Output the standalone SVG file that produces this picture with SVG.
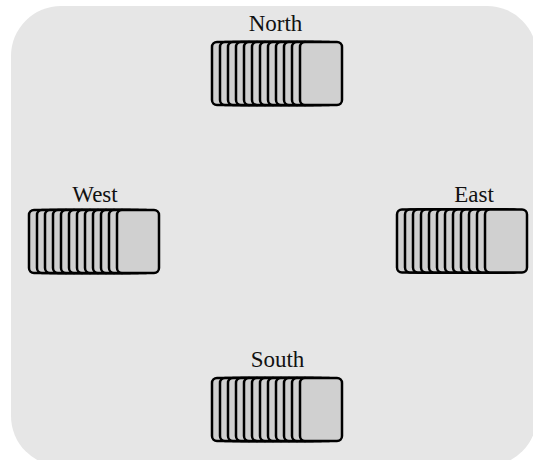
<svg xmlns="http://www.w3.org/2000/svg" xmlns:xlink="http://www.w3.org/1999/xlink" width="533" height="460" viewBox="0 0 533 460">
  <style>
    .bg { fill: #e6e6e6; stroke: none; }
    .card { fill: #d0d0d0; stroke: #000000; stroke-width: 2.5; }
    .label { font-family: "Liberation Serif", "Times New Roman", serif; font-size: 23px; fill: #111111; text-anchor: middle; }
  </style>
  <defs>
    <g id="stack">
      <rect class="card" x="0" y="0" width="42" height="63" rx="5"/>
      <rect class="card" x="8" y="0" width="42" height="63" rx="5"/>
      <rect class="card" x="16" y="0" width="42" height="63" rx="5"/>
      <rect class="card" x="24" y="0" width="42" height="63" rx="5"/>
      <rect class="card" x="32" y="0" width="42" height="63" rx="5"/>
      <rect class="card" x="40" y="0" width="42" height="63" rx="5"/>
      <rect class="card" x="48" y="0" width="42" height="63" rx="5"/>
      <rect class="card" x="56" y="0" width="42" height="63" rx="5"/>
      <rect class="card" x="64" y="0" width="42" height="63" rx="5"/>
      <rect class="card" x="72" y="0" width="42" height="63" rx="5"/>
      <rect class="card" x="80" y="0" width="42" height="63" rx="5"/>
      <rect class="card" x="88" y="0" width="42" height="63" rx="5"/>
    </g>
  </defs>
  <rect class="bg" x="11" y="6" width="526" height="460" rx="50" ry="50"/>
  <g id="connectors"></g>
  <g id="north">
    <text class="label" x="275.5" y="31">North</text>
    <use xlink:href="#stack" href="#stack" x="212" y="42"/>
  </g>
  <g id="west">
    <text class="label" x="95" y="201.5">West</text>
    <use xlink:href="#stack" href="#stack" x="29" y="210"/>
  </g>
  <g id="east">
    <text class="label" x="474" y="201.5">East</text>
    <use xlink:href="#stack" href="#stack" x="397" y="209.5"/>
  </g>
  <g id="south">
    <text class="label" x="277.5" y="366.5">South</text>
    <use xlink:href="#stack" href="#stack" x="212" y="378"/>
  </g>
</svg>
